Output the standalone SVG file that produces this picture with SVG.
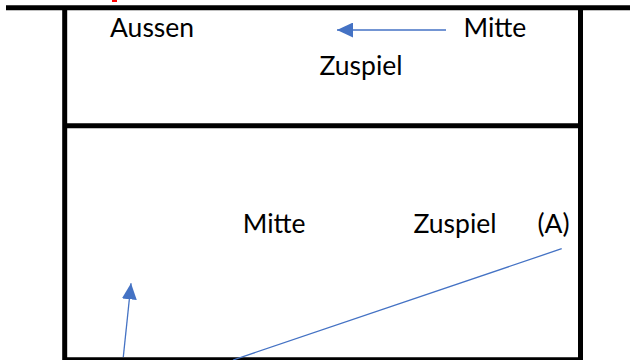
<svg xmlns="http://www.w3.org/2000/svg" width="630" height="360" viewBox="0 0 630 360">
<style>
.frame{stroke:#000;stroke-width:5;fill:none}
.lbl{font-family:Lato,"Open Sans","Liberation Sans",sans-serif;font-size:26.5px;fill:#000}
.con{stroke:#4472C4;stroke-width:1.3;fill:none}
</style>
<defs>
<marker id="ah" markerUnits="userSpaceOnUse" markerWidth="16" markerHeight="15" refX="16" refY="7.5" orient="auto">
<path d="M0,0 L16,7.5 L0,15 Z" fill="#4472C4"/>
</marker>
</defs>
<rect width="630" height="360" fill="#fff"/>
<g id="court">
<rect x="112" y="0" width="5" height="2" fill="#f00"/>
<line class="frame" x1="6" y1="7.8" x2="630" y2="7.8"/>
<line class="frame" x1="64.7" y1="7" x2="64.7" y2="360"/>
<line class="frame" x1="580.5" y1="7" x2="580.5" y2="360"/>
<line class="frame" x1="64.7" y1="125.8" x2="580.5" y2="125.8"/>
<line class="frame" x1="64.7" y1="359.8" x2="580.5" y2="359.8"/>
</g>
<g id="connectors">
<line class="con" x1="446" y1="30" x2="337" y2="30" marker-end="url(#ah)"/>
<line class="con" x1="123.3" y1="357" x2="131" y2="283.3" marker-end="url(#ah)"/>
<line class="con" x1="561.7" y1="248.7" x2="233" y2="360"/>
</g>
<g id="n-aussen"><text class="lbl" x="110" y="37.3">Aussen</text></g>
<g id="n-mitte-top"><text class="lbl" x="463.5" y="37">Mitte</text></g>
<g id="n-zuspiel-top"><text class="lbl" x="319.5" y="74.5">Zuspiel</text></g>
<g id="n-mitte"><text class="lbl" x="242.8" y="233.3">Mitte</text></g>
<g id="n-zuspiel"><text class="lbl" x="413.5" y="233.3">Zuspiel</text></g>
<g id="n-a"><text class="lbl" x="537.5" y="233.3">(A)</text></g>
</svg>
